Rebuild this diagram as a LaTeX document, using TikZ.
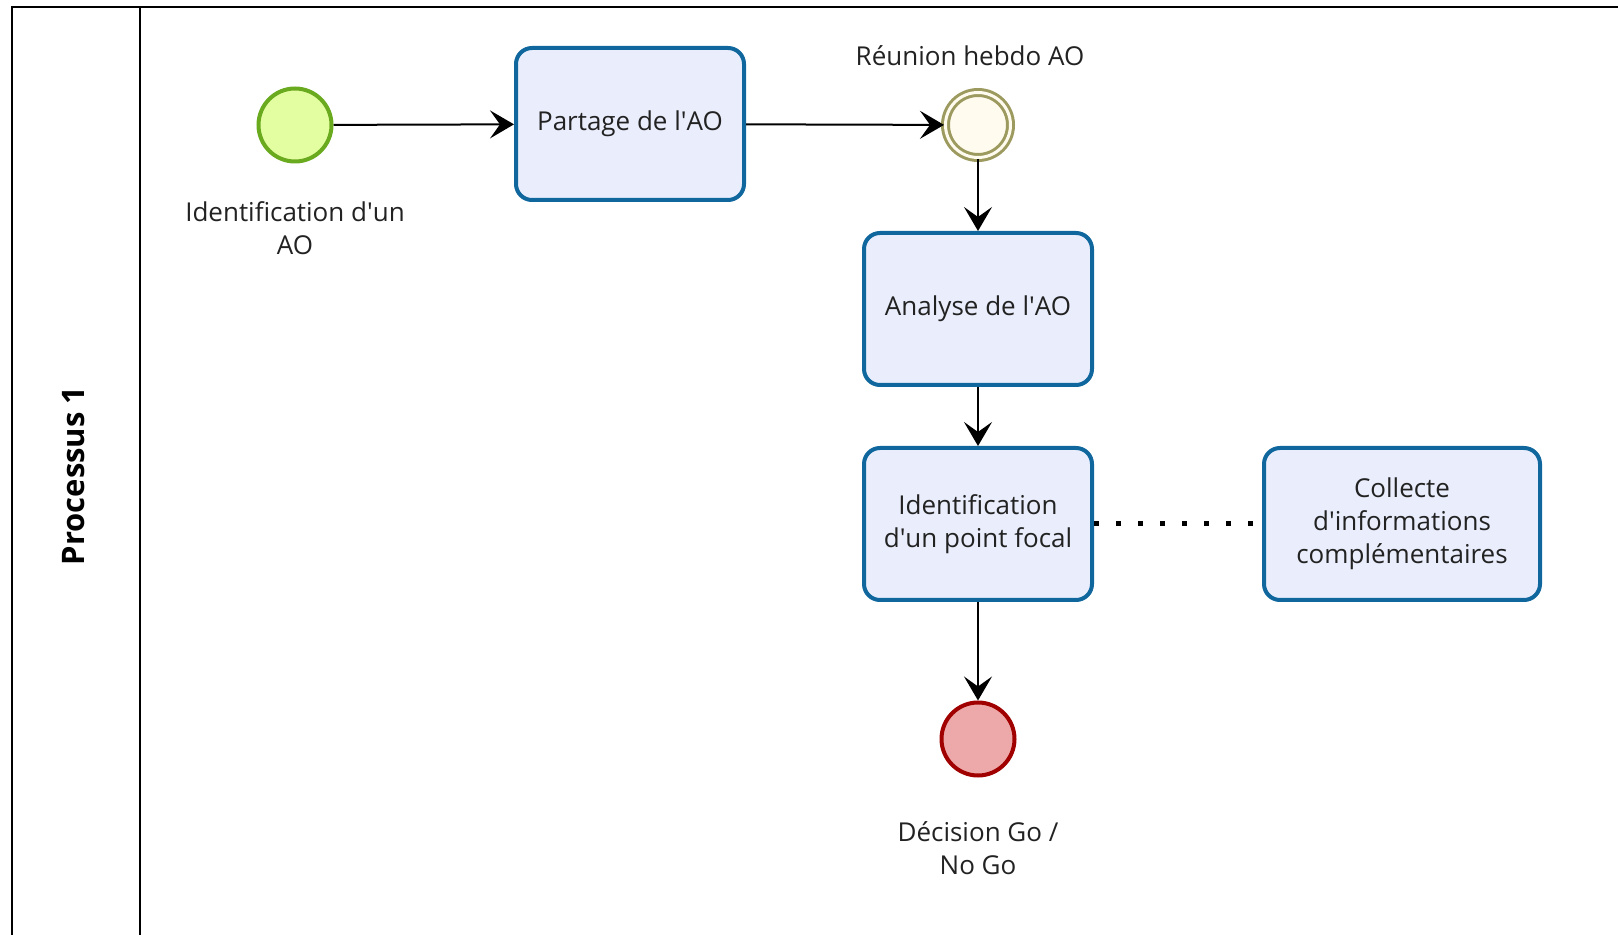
\documentclass[tikz,border=0pt]{standalone}
\usepackage{fontspec}
\setmainfont{Open Sans}
\usetikzlibrary{arrows.meta}

\definecolor{taskline}{HTML}{10679D}
\definecolor{taskfill}{HTML}{EAEEFC}
\definecolor{startline}{HTML}{6AAA1F}
\definecolor{startfill}{HTML}{E3FEA0}
\definecolor{midline}{HTML}{9C9A5E}
\definecolor{midfill}{HTML}{FFFBEE}
\definecolor{endline}{HTML}{A10000}
\definecolor{endfill}{HTML}{EDA9A9}
\definecolor{txt}{HTML}{222222}

\newcommand{\apos}{\textquotesingle}

\tikzset{
  task/.style={draw=taskline, fill=taskfill, line width=2pt, rounded corners=8pt,
    minimum width=114pt, minimum height=76pt, align=center, text=txt},
  evstart/.style={circle, draw=startline, fill=startfill, line width=2pt, minimum size=36.5pt},
  evmid/.style={circle, draw=midline, fill=midfill, line width=1.5pt,
    double=midfill, double distance=1.5pt, minimum size=32.5pt},
  evend/.style={circle, draw=endline, fill=endfill, line width=2pt, minimum size=36.5pt},
  evlabel/.style={align=center, text=txt},
  flow/.style={line width=1pt, -{Stealth[length=12pt,width=14pt,inset=5pt]}},
  assoc/.style={line width=2.5pt, dash pattern=on 2.5pt off 8.5pt},
  lane/.style={line width=1.2pt}
}

\begin{document}
\begin{tikzpicture}[x=0.5pt,y=-0.5pt,font=\fontsize{13}{16.5}\selectfont]
  \useasboundingbox (0,0) rectangle (1618,935);

  % pool
  \draw[lane] (1618,7) -- (12,7) -- (12,935);
  \draw[lane] (140,7) -- (140,935);
  \node[rotate=90, font=\fontsize{15.5}{18}\selectfont\bfseries] (pool) at (74,476) {Processus 1};

  % events and tasks
  \node[evstart] (start) at (295,125) {};
  \node[evlabel] (startlbl) at (295,228) {Identification d\apos un\\AO};
  \node[task] (partage) at (630,124) {Partage de l\apos AO};
  \node[evmid] (reunion) at (978,125) {};
  \node[evlabel] (reunionlbl) at (970,56) {Réunion hebdo AO};
  \node[task] (analyse) at (978,309) {Analyse de l\apos AO};
  \node[task] (focal) at (978,524) {Identification\\d\apos un point focal};
  \node[task, minimum width=138pt] (collecte) at (1402,524) {Collecte\\d\apos informations\\complémentaires};
  \node[evend] (fin) at (978,739) {};
  \node[evlabel] (finlbl) at (978,848) {Décision Go /\\No Go};

  % flows
  \draw[flow] (start) -- (partage);
  \draw[flow] (partage) -- (reunion);
  \draw[flow] (reunion) -- (analyse);
  \draw[flow] (analyse) -- (focal);
  \draw[flow] (focal) -- (fin);
  \draw[assoc] (focal) -- (collecte);
\end{tikzpicture}
\end{document}
